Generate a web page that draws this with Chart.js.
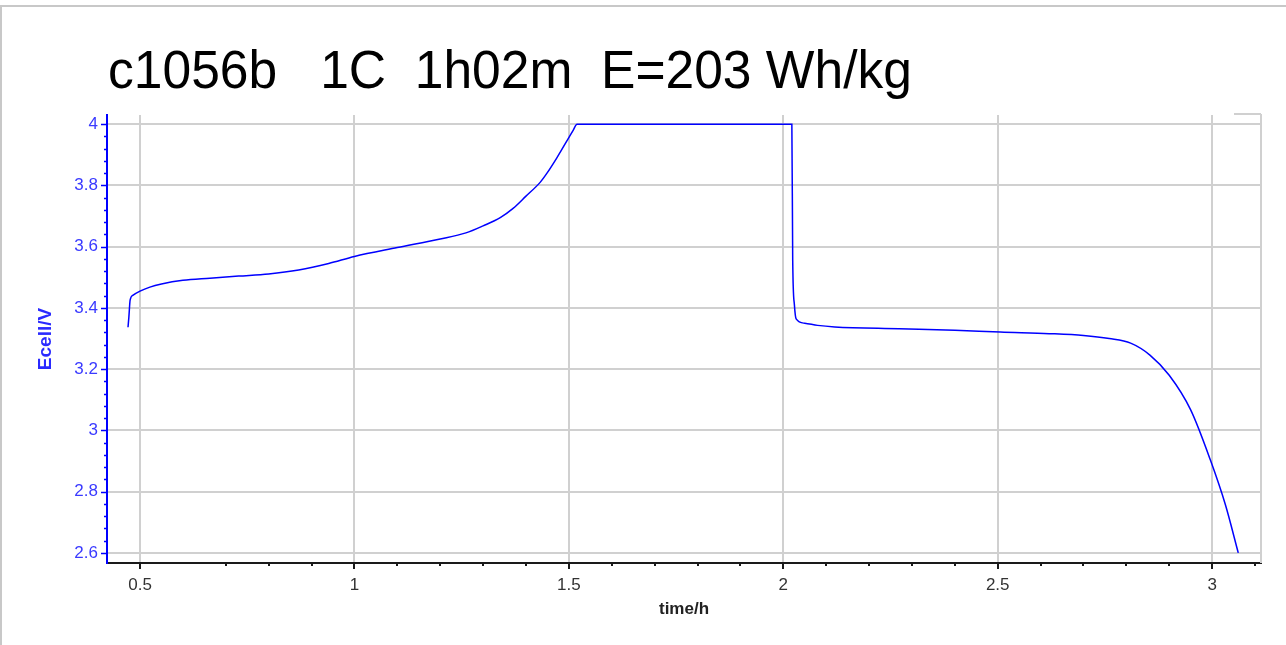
<!DOCTYPE html>
<html>
<head>
<meta charset="utf-8">
<script src="https://cdn.jsdelivr.net/npm/chart.js@4"></script>
<style>
  body { margin: 0; background: #fff; }
  #wrap { position: relative; width: 1286px; height: 645px; }
</style>
</head>
<body>
<div id="wrap"><canvas id="chart" width="1286" height="645"></canvas></div>
<script>
const titleText = "c1056b   1C  1h02m  E=203 Wh/kg";

// cell voltage vs time
const timeH = [
  0.472, 0.474, 0.477, 0.484, 0.5, 0.523, 0.55, 0.6, 0.663, 0.73, 0.8, 0.87, 0.94,
  1.0, 1.1, 1.2, 1.26, 1.3, 1.34, 1.37, 1.4, 1.433, 1.449, 1.472, 1.51, 1.519,
  2.02, 2.022, 2.026, 2.03, 2.05, 2.08, 2.12, 2.27, 2.4, 2.506, 2.62, 2.7, 2.76,
  2.81, 2.855, 2.9, 2.95, 2.996, 3.031, 3.061
];
const ecellV = [
  3.337, 3.37, 3.426, 3.442, 3.455, 3.468, 3.478, 3.49, 3.497, 3.504, 3.511, 3.524, 3.545,
  3.568, 3.597, 3.625, 3.645, 3.668, 3.695, 3.725, 3.765, 3.81, 3.84, 3.89, 3.98, 4.0,
  4.0, 3.556, 3.409, 3.364, 3.35, 3.343, 3.338, 3.332, 3.327, 3.321, 3.316, 3.31, 3.3,
  3.285, 3.246, 3.18, 3.067, 2.903, 2.757, 2.6
];

const xTicks = [0.5, 1, 1.5, 2, 2.5, 3];
const yTicks = [2.6, 2.8, 3, 3.2, 3.4, 3.6, 3.8, 4];
const xMinorTicks = [0.7, 0.8, 0.9, 1.1, 1.2, 1.3, 1.4, 1.6, 1.7, 1.8, 1.9,
  2.1, 2.2, 2.3, 2.4, 2.6, 2.7, 2.8, 2.9, 3.1];
const yMinorTicks = [];
for (let i = 0; i < 7; i++) {
  for (let j = 1; j < 5; j++) yMinorTicks.push(2.6 + i * 0.2 + j * 0.04);
}

const points = timeH.map((t, i) => ({ x: t, y: ecellV[i] }));

const gridColor = "#d0d0d0";
const blue = "#0000ff";
const font = '"Liberation Sans", Arial';

// ticks, frame and title drawn on top of the chart
const decorations = {
  id: "decorations",
  afterDraw(chart) {
    const ctx = chart.ctx;
    const xs = chart.scales.x;
    const ys = chart.scales.y;
    const area = chart.chartArea;
    ctx.save();

    // page border
    ctx.strokeStyle = "#c8c8c8";
    ctx.lineWidth = 2;
    ctx.beginPath();
    ctx.moveTo(0, 6); ctx.lineTo(1286, 6);
    ctx.moveTo(1, 6); ctx.lineTo(1, 645);
    ctx.stroke();

    // right frame
    ctx.strokeStyle = gridColor;
    ctx.beginPath();
    ctx.moveTo(area.right, area.top - 1); ctx.lineTo(area.right, area.bottom);
    ctx.moveTo(area.right - 27, area.top - 1); ctx.lineTo(area.right, area.top - 1);
    ctx.stroke();

    // y axis ticks
    ctx.strokeStyle = blue;
    ctx.lineWidth = 1.5;
    ctx.beginPath();
    yTicks.forEach((v) => {
      const py = Math.round(ys.getPixelForValue(v)) + 0.5;
      ctx.moveTo(area.left - 6, py); ctx.lineTo(area.left, py);
    });
    yMinorTicks.forEach((v) => {
      const py = Math.round(ys.getPixelForValue(v)) + 0.5;
      ctx.moveTo(area.left - 3, py); ctx.lineTo(area.left, py);
    });
    ctx.stroke();

    // x axis ticks
    ctx.strokeStyle = "#1a1a1a";
    ctx.lineWidth = 2;
    ctx.beginPath();
    xTicks.forEach((v) => {
      const px = Math.round(xs.getPixelForValue(v));
      ctx.moveTo(px, area.bottom); ctx.lineTo(px, area.bottom + 6);
    });
    xMinorTicks.forEach((v) => {
      const px = Math.round(xs.getPixelForValue(v));
      ctx.moveTo(px, area.bottom); ctx.lineTo(px, area.bottom + 3);
    });
    ctx.stroke();

    // title
    ctx.fillStyle = "#000";
    ctx.font = "53px " + font + ", sans-serif";
    ctx.textBaseline = "alphabetic";
    const w = ctx.measureText(titleText).width;
    ctx.translate(108, 88);
    ctx.scale(804 / w, 1);
    ctx.fillText(titleText, 0, 0);
    ctx.restore();
  }
};

new Chart(document.getElementById("chart"), {
  type: "line",
  data: {
    datasets: [{
      data: points,
      borderColor: blue,
      borderWidth: 1.5,
      pointRadius: 0,
      cubicInterpolationMode: "monotone",
      fill: false
    }]
  },
  options: {
    responsive: false,
    animation: false,
    layout: { padding: { top: 115, right: 25, left: 0, bottom: 0 } },
    plugins: { legend: { display: false }, tooltip: { enabled: false } },
    scales: {
      x: {
        type: "linear",
        position: "bottom",
        min: 0.423,
        max: 3.114,
        afterBuildTicks: (s) => { s.ticks = xTicks.map((v) => ({ value: v })); },
        afterFit: (s) => { s.height = 82; },
        grid: { color: gridColor, lineWidth: 2, tickLength: 6, tickColor: "rgba(0,0,0,0)" },
        border: { color: "#1a1a1a", width: 2 },
        ticks: {
          color: "#333",
          font: { family: font, size: 17 },
          padding: 6,
          maxRotation: 0,
          callback: (v) => String(v)
        },
        title: {
          display: true,
          text: "time/h",
          color: "#222",
          font: { family: font, size: 17, weight: "bold", lineHeight: 1 },
          padding: { top: 0, bottom: 27 }
        }
      },
      y: {
        type: "linear",
        position: "left",
        min: 2.567,
        max: 4.03,
        afterBuildTicks: (s) => { s.ticks = yTicks.map((v) => ({ value: v })); },
        afterFit: (s) => { s.width = 107; },
        grid: { color: gridColor, lineWidth: 2, tickLength: 6, tickColor: "rgba(0,0,0,0)" },
        border: { color: blue, width: 2 },
        ticks: {
          color: "#3a3aff",
          font: { family: font, size: 17 },
          padding: 3,
          callback: (v) => String(v)
        },
        title: {
          display: true,
          text: "Ecell/V",
          color: "#2a2aff",
          font: { family: font, size: 19, weight: "bold", lineHeight: 1 },
          padding: { top: 36, bottom: 0 }
        }
      }
    }
  },
  plugins: [decorations]
});
</script>
</body>
</html>
